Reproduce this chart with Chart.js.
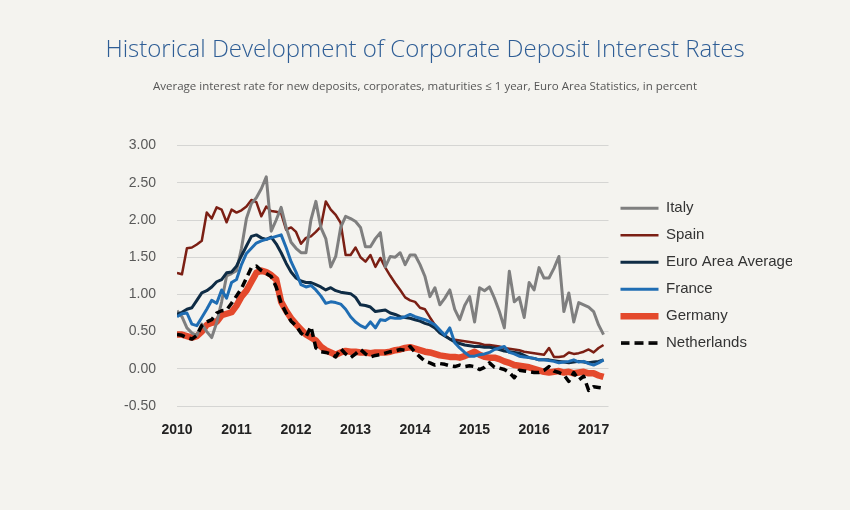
<!DOCTYPE html>
<html>
<head>
<meta charset="utf-8">
<script src="https://cdn.jsdelivr.net/npm/chart.js@4/dist/chart.umd.min.js"></script>
<style>
	body { margin: 0; background: #f4f3ef; }
	#wrap { width: 850px; height: 510px; }
</style>
</head>
<body>
<div id="wrap"><canvas id="rateChart"></canvas></div>
<script>
// Year labels, one tick every 12 months (first month = Jan 2010)
var years = ['2010', '2011', '2012', '2013', '2014', '2015', '2016', '2017'];

// Monthly rates, Jan 2010 - Mar 2017
var italy = [
	0.78, 0.70, 0.55, 0.48, 0.45, 0.60, 0.50, 0.42, 0.62, 0.90,
	1.25, 1.28, 1.32, 1.62, 2.02, 2.22, 2.30, 2.42, 2.58, 1.85,
	2.00, 2.17, 1.90, 1.70, 1.62, 1.56, 1.56, 2.00, 2.25, 1.90,
	1.75, 1.37, 1.51, 1.90, 2.05, 2.02, 1.98, 1.90, 1.64, 1.64,
	1.75, 1.83, 1.37, 1.51, 1.50, 1.56, 1.40, 1.53, 1.53, 1.40,
	1.24, 0.97, 1.09, 0.86, 0.95, 1.06, 0.80, 0.66, 0.85, 0.97,
	0.63, 1.09, 1.05, 1.10, 0.95, 0.77, 0.55, 1.31, 0.90, 0.96,
	0.69, 1.16, 1.06, 1.36, 1.22, 1.22, 1.35, 1.51, 0.77, 1.02,
	0.63, 0.89, 0.86, 0.83, 0.77, 0.59, 0.46
];
var spain = [
	1.29, 1.27, 1.62, 1.63, 1.67, 1.72, 2.10, 2.02, 2.17, 2.14,
	1.97, 2.14, 2.10, 2.13, 2.18, 2.27, 2.24, 2.05, 2.18, 2.12,
	2.11, 2.09, 1.87, 1.90, 1.84, 1.68, 1.76, 1.78, 1.84, 1.91,
	2.25, 2.14, 2.07, 1.96, 1.53, 1.53, 1.63, 1.50, 1.44, 1.53,
	1.37, 1.49, 1.36, 1.25, 1.15, 1.06, 0.96, 0.92, 0.90, 0.82,
	0.80, 0.69, 0.59, 0.50, 0.45, 0.40, 0.39, 0.38, 0.37, 0.36,
	0.35, 0.34, 0.32, 0.32, 0.31, 0.30, 0.28, 0.27, 0.26, 0.25,
	0.23, 0.22, 0.21, 0.20, 0.19, 0.28, 0.16, 0.16, 0.17, 0.22,
	0.20, 0.21, 0.23, 0.26, 0.22, 0.28, 0.32
];
var euroArea = [
	0.73, 0.76, 0.80, 0.82, 0.92, 1.02, 1.05, 1.10, 1.17, 1.20,
	1.29, 1.30, 1.38, 1.52, 1.65, 1.78, 1.80, 1.76, 1.74, 1.77,
	1.68, 1.56, 1.42, 1.30, 1.22, 1.18, 1.16, 1.16, 1.13, 1.10,
	1.06, 1.09, 1.05, 1.03, 1.02, 1.01, 0.96, 0.86, 0.85, 0.83,
	0.77, 0.78, 0.79, 0.75, 0.73, 0.70, 0.69, 0.68, 0.66, 0.64,
	0.61, 0.59, 0.55, 0.48, 0.44, 0.40, 0.36, 0.34, 0.32, 0.31,
	0.30, 0.30, 0.29, 0.29, 0.28, 0.26, 0.24, 0.23, 0.22, 0.21,
	0.18, 0.15, 0.14, 0.12, 0.12, 0.12, 0.11, 0.10, 0.09, 0.08,
	0.09, 0.10, 0.09, 0.08, 0.09, 0.10, 0.12
];
var france = [
	0.70, 0.74, 0.75, 0.60, 0.58, 0.69, 0.80, 0.92, 0.88, 1.06,
	0.95, 1.16, 1.20, 1.40, 1.55, 1.62, 1.69, 1.72, 1.74, 1.76,
	1.78, 1.80, 1.63, 1.44, 1.30, 1.13, 1.10, 1.12, 1.06, 0.98,
	0.88, 0.90, 0.89, 0.87, 0.80, 0.70, 0.63, 0.58, 0.55, 0.63,
	0.55, 0.66, 0.65, 0.69, 0.68, 0.68, 0.70, 0.73, 0.70, 0.68,
	0.66, 0.63, 0.59, 0.52, 0.45, 0.55, 0.35, 0.28, 0.22, 0.17,
	0.17, 0.19, 0.20, 0.22, 0.26, 0.28, 0.30, 0.22, 0.20, 0.17,
	0.16, 0.15, 0.14, 0.12, 0.12, 0.11, 0.10, 0.08, 0.09, 0.10,
	0.12, 0.09, 0.10, 0.07, 0.05, 0.08, 0.12
];
var germany = [
	0.46, 0.46, 0.44, 0.42, 0.44, 0.50, 0.59, 0.62, 0.63, 0.72,
	0.74, 0.76, 0.85, 0.97, 1.05, 1.17, 1.29, 1.32, 1.30, 1.26,
	1.20, 0.90, 0.78, 0.68, 0.60, 0.53, 0.46, 0.42, 0.38, 0.30,
	0.25, 0.22, 0.19, 0.22, 0.24, 0.23, 0.23, 0.22, 0.22, 0.21,
	0.22, 0.22, 0.22, 0.23, 0.25, 0.26, 0.28, 0.29, 0.27, 0.25,
	0.23, 0.22, 0.20, 0.18, 0.17, 0.16, 0.16, 0.15, 0.17, 0.20,
	0.23, 0.19, 0.16, 0.15, 0.15, 0.13, 0.10, 0.08, 0.05, 0.04,
	0.03, 0.02, 0.00, -0.02, -0.04, -0.05, -0.04, -0.03, -0.05, -0.04,
	-0.06, -0.05, -0.04, -0.06, -0.06, -0.09, -0.11
];
var netherlands = [
	0.46, 0.45, 0.42, 0.40, 0.45, 0.58, 0.63, 0.66, 0.75, 0.78,
	0.79, 0.88, 0.98, 1.08, 1.22, 1.36, 1.38, 1.32, 1.28, 1.24,
	1.10, 0.88, 0.75, 0.64, 0.58, 0.48, 0.43, 0.57, 0.28, 0.23,
	0.22, 0.20, 0.16, 0.27, 0.20, 0.15, 0.20, 0.26, 0.20, 0.16,
	0.18, 0.19, 0.21, 0.23, 0.24, 0.26, 0.25, 0.30, 0.22, 0.16,
	0.10, 0.08, 0.05, 0.07, 0.06, 0.04, 0.03, 0.05, 0.03, 0.04,
	0.03, -0.01, 0.02, 0.08, 0.02, 0.01, -0.01, -0.05, -0.12, -0.02,
	-0.03, -0.04, -0.05, -0.05, -0.02, 0.03, -0.03, -0.05, -0.08, -0.17,
	-0.05, -0.15, -0.10, -0.29, -0.24, -0.25, -0.26
];

// month index -> {x, y}
function toPoints(arr) {
	return arr.map(function(v, i) { return { x: i, y: v }; });
}

function series(label, arr, color, width, order, dash) {
	return {
		label: label,
		data: toPoints(arr),
		borderColor: color,
		backgroundColor: color,
		borderWidth: width,
		borderDash: dash || [],
		borderJoinStyle: 'round',
		pointRadius: 0,
		tension: 0,
		fill: false,
		order: order
	};
}

// Small dashed swatch for the Netherlands legend entry
var dashSwatch = document.createElement('canvas');
dashSwatch.width = 38;
dashSwatch.height = 4;
(function() {
	var c = dashSwatch.getContext('2d');
	c.strokeStyle = '#000';
	c.lineWidth = 3.5;
	c.setLineDash([9, 5]);
	c.beginPath();
	c.moveTo(0, 2);
	c.lineTo(38, 2);
	c.stroke();
})();

var rateChart = new Chart(document.getElementById('rateChart'), {
	type: 'line',
	data: {
		datasets: [
			series('Italy', italy, '#7f7f7f', 3, 4),
			series('Spain', spain, '#7b1f14', 2.5, 5),
			series('Euro Area Average', euroArea, '#0f2c45', 3, 3),
			series('France', france, '#1f6db3', 3, 2),
			series('Germany', germany, '#e4492c', 6.5, 6),
			series('Netherlands', netherlands, '#000000', 3.5, 1, [8, 5])
		]
	},
	options: {
		responsive: true,
		maintainAspectRatio: false,
		animation: false,
		events: [],
		layout: { padding: { left: 58, right: 58, top: 0, bottom: 0 } },
		plugins: {
			title: {
				display: true,
				text: 'Historical Development of Corporate Deposit Interest Rates',
				color: '#2e5d95',
				font: { family: 'Open Sans', size: 24, weight: '300' },
				padding: { top: 36, bottom: 0 }
			},
			subtitle: {
				display: true,
				text: 'Average interest rate for new deposits, corporates, maturities \u2264 1 year, Euro Area Statistics, in percent',
				color: '#555555',
				font: { family: 'Open Sans', size: 11.5 },
				padding: { top: 15, bottom: 52 }
			},
			legend: {
				position: 'right',
				fullSize: false,
				labels: {
					usePointStyle: true,
					pointStyleWidth: 38,
					boxWidth: 38,
					padding: 12,
					color: '#333333',
					font: { family: 'Liberation Sans', size: 15 },
					sort: function(a, b) { return a.datasetIndex - b.datasetIndex; },
					generateLabels: function(chart) {
						var items = Chart.defaults.plugins.legend.labels.generateLabels(chart);
						items.forEach(function(item) {
							item.pointStyle = item.datasetIndex === 5 ? dashSwatch : 'line';
						});
						return items;
					}
				}
			},
			tooltip: { enabled: false }
		},
		scales: {
			x: {
				type: 'linear',
				min: 0,
				max: 87,
				afterFit: function(scale) { scale.height = 104; },
				afterBuildTicks: function(scale) {
					scale.ticks = years.map(function(y, k) { return { value: k * 12 }; });
				},
				ticks: {
					padding: 16,
					maxRotation: 0,
					color: '#222222',
					font: { family: 'Liberation Sans', size: 14, weight: 'bold' },
					callback: function(value, index) { return years[index]; }
				},
				grid: { display: false, drawTicks: false },
				border: { display: false }
			},
			y: {
				min: -0.5,
				max: 3,
				afterFit: function(scale) { scale.width = 177 - 58; },
				ticks: {
					stepSize: 0.5,
					padding: 21,
					color: '#595959',
					font: { family: 'Liberation Sans', size: 14 },
					callback: function(value) { return value.toFixed(2); }
				},
				grid: { color: '#d5d5d3', lineWidth: 1, drawTicks: false },
				border: { display: false }
			}
		}
	}
});
</script>
</body>
</html>
